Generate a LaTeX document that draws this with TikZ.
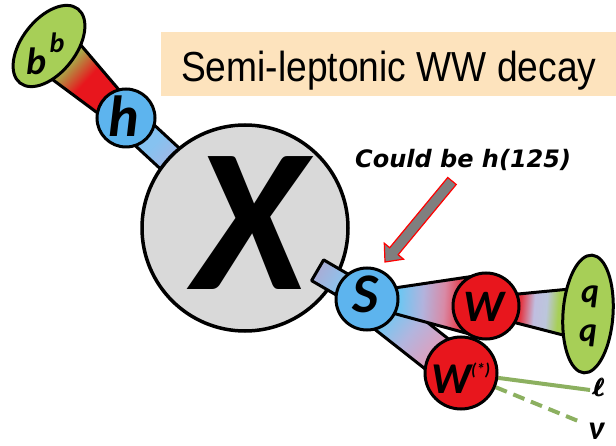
\documentclass[tikz,border=0pt]{standalone}
\usepackage{fontspec}
\usepackage{amsmath}
\setmainfont{Liberation Sans}
\newfontfamily\lettfont{Carlito}
\newfontfamily\notefont{DejaVu Sans}
\usetikzlibrary{calc,shapes.geometric}

% palette
\definecolor{cred}{HTML}{E8161D}
\definecolor{cblue}{HTML}{5DB4EE}
\definecolor{cgreen}{HTML}{A7CF57}
\definecolor{cgray}{HTML}{D9D9D9}
\definecolor{titlefill}{HTML}{FDE3BD}
\definecolor{lepgreen}{HTML}{8CB060}
\definecolor{arrowgray}{HTML}{7F7F7F}
\definecolor{colive}{HTML}{A9A848}
\definecolor{bandblue}{HTML}{86C2F0}
\definecolor{lavender}{HTML}{AAB4E2}
\definecolor{xslav}{HTML}{A8ADD6}
\definecolor{xsblue}{HTML}{8EC2EC}
\definecolor{swblue}{HTML}{6EC6F2}
\definecolor{swlav}{HTML}{B2B3DD}
\definecolor{swpink}{HTML}{D88AA6}
\definecolor{swred}{HTML}{E44858}
\definecolor{wsblue}{HTML}{7AC6F0}
\definecolor{wslav}{HTML}{B3B5DE}
\definecolor{wspink}{HTML}{D8A2C2}
\definecolor{wqred}{HTML}{E5333F}
\definecolor{wqlav}{HTML}{C0BEE0}
\definecolor{wqmid}{HTML}{BCC6DC}

% gradients along the connecting bands
\pgfdeclarehorizontalshading{shBH}{100bp}{color(0bp)=(cred); color(48bp)=(cred); color(60bp)=(colive); color(100bp)=(cgreen)}
\pgfdeclarehorizontalshading{shHX}{100bp}{color(0bp)=(bandblue); color(34bp)=(bandblue); color(46bp)=(lavender); color(100bp)=(lavender)}
\pgfdeclarehorizontalshading{shXS}{100bp}{color(0bp)=(xslav); color(25bp)=(xslav); color(48bp)=(xsblue); color(100bp)=(xsblue)}
\pgfdeclarehorizontalshading{shSW}{100bp}{color(0bp)=(swblue); color(38bp)=(swblue); color(48bp)=(swlav); color(57bp)=(swpink); color(63bp)=(swred); color(100bp)=(swred)}
\pgfdeclarehorizontalshading{shSWs}{100bp}{color(0bp)=(wsblue); color(36bp)=(wsblue); color(48bp)=(wslav); color(60bp)=(wspink); color(100bp)=(wspink)}
\pgfdeclarehorizontalshading{shWQ}{100bp}{color(0bp)=(wqred); color(41bp)=(wqred); color(48bp)=(wqlav); color(54bp)=(wqmid); color(60bp)=(cgreen); color(100bp)=(cgreen)}

% tapered band between two nodes: style, from, to, half width at from, half width at to
\newcommand\bandpath[5]{%
  \path[#1] ($(#2)!#4!90:(#3)$) -- ($(#3)!#5!-90:(#2)$) -- ($(#3)!#5!90:(#2)$) -- ($(#2)!#4!-90:(#3)$) -- cycle;}

\pgfdeclarelayer{under}
\pgfdeclarelayer{xl}
\pgfdeclarelayer{bands}
\pgfsetlayers{under,xl,bands,main}

\tikzset{
  ring/.style={circle, draw=black, line width=3pt, inner sep=0pt},
  oval/.style={ellipse, draw=black, line width=3pt, inner sep=0pt, fill=cgreen},
  lett/.style={font=\lettfont\bfseries\itshape\fontsize{#1}{#1}\selectfont, inner sep=0pt},
  band/.style={draw=black, line width=3pt, line join=round, shade},
  lepline/.style={draw=lepgreen, line width=4pt},
  arrowshape/.style={fill=arrowgray, draw=red, line width=1.2pt, line join=miter},
}

\begin{document}
\begin{tikzpicture}[x=1pt,y=-1pt]
\useasboundingbox (0,0) rectangle (616,446);

% heading
\node[fill=titlefill, minimum width=455, minimum height=64, anchor=north west, inner sep=0pt] (titlebox) at (161,32) {};
\node[anchor=base west, inner sep=0pt, font=\fontsize{42}{42}\selectfont] (titletext) at (181,82) {\scalebox{0.885}[1]{Semi-leptonic WW decay}};

% heavy resonance
\begin{pgfonlayer}{xl}
  \node[ring, line width=3.5pt, fill=cgray, minimum size=206] (X) at (245,228) {};
  \node[lett=205, anchor=base] (Xl) at (250,290) {X};
\end{pgfonlayer}

% decay products
\node[oval, minimum width=94, minimum height=54, rotate=52] (bb) at (49,46) {};
\node[ring, fill=cblue, minimum size=58] (h) at (126,118) {};
\node[ring, fill=cblue, minimum size=62] (S) at (367,299) {};
\node[ring, fill=cred, minimum size=66] (W) at (486,306) {};
\node[ring, fill=cred, minimum size=72] (Ws) at (461,373) {};
\node[oval, minimum width=50, minimum height=118, rotate=-4] (qq) at (588,314) {};

% particle labels
\node[lett=38, anchor=base] (b1) at (37,75) {b};
\node[lett=28, anchor=base] (b2) at (57,53) {b};
\node[lett=58, anchor=base] (hl) at (124,137) {h};
\node[lett=56, anchor=base] (Sl) at (366,313) {S};
\node[lett=45, anchor=base] (Wl) at (484,322) {W};
\node[lett=44, anchor=base west] (Wsl) at (431,393) {W\raisebox{18pt}{\fontsize{17}{17}\selectfont(*)}};
\node[lett=34, anchor=base] (q1) at (590,303) {q};
\node[lett=34, anchor=base] (q2) at (588,342) {q};

% lepton legs
\coordinate (lend) at (590,390);
\coordinate (nend) at (583,423);
\node[anchor=base west, inner sep=0pt, font=\fontsize{27}{27}\selectfont\boldmath] (ell) at (593,396) {$\pmb{\ell}$};
\node[lett=34, anchor=base west] (nu) at (588,439) {ν};

% connecting bands
\begin{pgfonlayer}{under}
  \bandpath{band, shading=shBH, shading angle=137.3}{h}{bb}{13pt}{25pt}
  \bandpath{band, shading=shHX, shading angle=-43.2}{h}{X}{14pt}{14pt}
\end{pgfonlayer}
\begin{pgfonlayer}{bands}
  \coordinate (xs) at ($(X)!84pt!(S)$);
  \draw[lepline] (Ws) -- (lend);
  \draw[lepline, dash pattern=on 12pt off 7pt] (Ws) -- (nend);
  \bandpath{band, shading=shXS, shading angle=-30.2}{xs}{S}{12pt}{12pt}
  \bandpath{band, shading=shSWs, shading angle=-38.2}{S}{Ws}{19pt}{19pt}
  \bandpath{band, shading=shSW, shading angle=-3.4}{S}{W}{7pt}{32pt}
  \bandpath{band, shading=shWQ, shading angle=-4.5}{W}{qq}{9pt}{27pt}
\end{pgfonlayer}

% annotation
\node[anchor=base west, inner sep=0pt, font=\notefont\bfseries\itshape\fontsize{24}{24}\selectfont] (note) at (355,168) {Could be h(125)};
\coordinate (atail) at (452,181);
\coordinate (atip) at (385,262);
\coordinate (abase) at ($(atip)!14pt!(atail)$);
\draw[arrowshape] ($(atail)!5.5pt!90:(atip)$) -- ($(abase)!5.5pt!90:(atip)$) -- ($(abase)!12.5pt!90:(atip)$) -- (atip)
  -- ($(abase)!12.5pt!-90:(atip)$) -- ($(abase)!5.5pt!-90:(atip)$) -- ($(atail)!5.5pt!-90:(atip)$) -- cycle;
\end{tikzpicture}
\end{document}
